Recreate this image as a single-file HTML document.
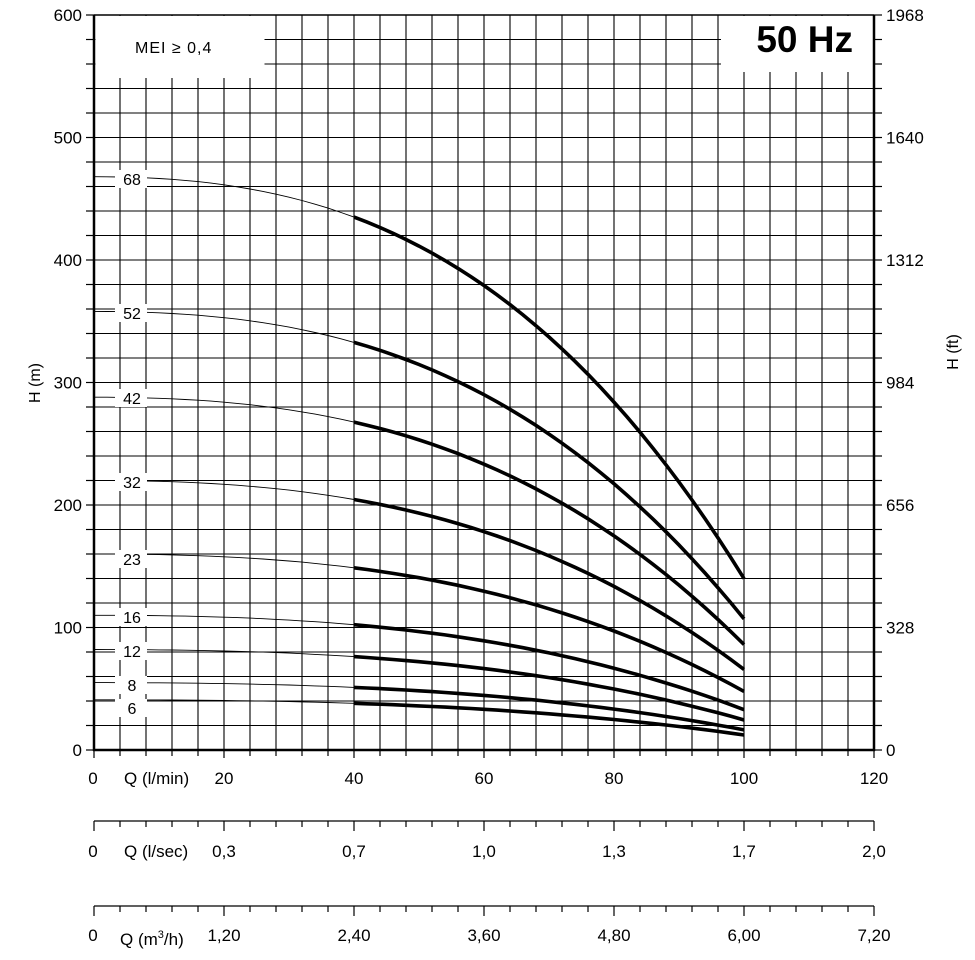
<!DOCTYPE html>
<html><head><meta charset="utf-8"><style>
body{margin:0;background:#fff}
svg{display:block;font-family:"Liberation Sans",sans-serif}
</style></head><body>
<svg id="s" width="975" height="960" viewBox="0 0 975 960" xmlns="http://www.w3.org/2000/svg"></svg>
<script>
const s=document.getElementById('s');
let h='';
const X=q=>94+q*6.5, Y=m=>750-m*1.225;
for(let i=1;i<30;i++){const x=X(i*4);h+=`<line x1="${x}" y1="15" x2="${x}" y2="750" stroke="#000" stroke-width="1.1"/>`;}
for(let j=1;j<30;j++){const y=Y(j*20);h+=`<line x1="94" y1="${y}" x2="874" y2="${y}" stroke="#000" stroke-width="1.1"/>`;}
h+=`<rect x="95.5" y="16" width="169" height="62" fill="#fff"/>`;
h+=`<rect x="721" y="16" width="152" height="56" fill="#fff"/>`;
h+=`<text x="135" y="53" font-size="16" letter-spacing="1">MEI ≥ 0,4</text>`;
h+=`<text x="853" y="52" font-size="37" font-weight="bold" text-anchor="end">50 Hz</text>`;
const C=[[68,468,179],[52,358,313],[42,288,398],[32,220,482],[23,160,559],[16,110,617],[12,82,651],[8,55,685],[6,41,708]];
const f=(H0,q)=>H0*(1-2.67e-5*q*q-4.34e-7*q*q*q);
for(const [n,H0,ly] of C){
  let p1='',p2='';
  for(let q=0;q<=40;q+=2)p1+=(q?'L':'M')+X(q).toFixed(1)+','+Y(f(H0,q)).toFixed(1);
  for(let q=40;q<=100;q+=2)p2+=(q>40?'L':'M')+X(q).toFixed(1)+','+Y(f(H0,q)).toFixed(1);
  h+=`<path d="${p1}" fill="none" stroke="#000" stroke-width="0.9"/>`;
  h+=`<path d="${p2}" fill="none" stroke="#000" stroke-width="3.6"/>`;
  h+=`<rect x="115" y="${ly-9}" width="32" height="18" fill="#fff"/>`;
  h+=`<text x="132" y="${ly+6}" font-size="16" text-anchor="middle">${n}</text>`;
}
h+=`<line x1="94" y1="15" x2="874" y2="15" stroke="#000" stroke-width="1.5"/>`;
h+=`<line x1="94" y1="15" x2="94" y2="751" stroke="#000" stroke-width="2.5"/>`;
h+=`<line x1="874" y1="15" x2="874" y2="751" stroke="#000" stroke-width="2.5"/>`;
h+=`<line x1="93" y1="750" x2="875" y2="750" stroke="#000" stroke-width="2.5"/>`;
for(let j=0;j<=30;j++){const y=Y(j*20);h+=`<line x1="86" y1="${y}" x2="94" y2="${y}" stroke="#000" stroke-width="1.2"/><line x1="874" y1="${y}" x2="882" y2="${y}" stroke="#000" stroke-width="1.2"/>`;}
const ft=['0','328','656','984','1312','1640','1968'];
for(let k=0;k<=6;k++){const y=Y(k*100);h+=`<text x="82" y="${y+6}" font-size="17" text-anchor="end">${k*100}</text><text x="886" y="${y+6}" font-size="17">${ft[k]}</text>`;}
h+=`<text transform="translate(40,383) rotate(-90)" font-size="16" text-anchor="middle">H (m)</text>`;
h+=`<text transform="translate(958,352) rotate(-90)" font-size="16" text-anchor="middle">H (ft)</text>`;
for(let i=0;i<=30;i++){const x=X(i*4);h+=`<line x1="${x}" y1="750" x2="${x}" y2="${i%5==0?758:756}" stroke="#000" stroke-width="1.2"/>`;}
[0,20,40,60,80,100,120].forEach((v,i)=>{if(i)h+=`<text x="${X(v)}" y="784" font-size="17" text-anchor="middle">${v}</text>`;});
h+=`<text x="93" y="784" font-size="17" text-anchor="middle">0</text><text x="124" y="784" font-size="17">Q (l/min)</text>`;
function axis(y,labs,ty,name){
  h+=`<line x1="94" y1="${y}" x2="874" y2="${y}" stroke="#000" stroke-width="1.3"/>`;
  for(let i=0;i<=30;i++){const x=X(i*4);h+=`<line x1="${x}" y1="${y}" x2="${x}" y2="${y+(i%5==0?10:6)}" stroke="#000" stroke-width="1.2"/>`;}
  labs.forEach((l,i)=>{if(i)h+=`<text x="${X(i*20)}" y="${ty}" font-size="17" text-anchor="middle">${l}</text>`;});
  h+=`<text x="93" y="${ty}" font-size="17" text-anchor="middle">0</text>`+name;
}
axis(821,['0','0,3','0,7','1,0','1,3','1,7','2,0'],857,`<text x="124" y="857" font-size="17">Q (l/sec)</text>`);
axis(906,['0','1,20','2,40','3,60','4,80','6,00','7,20'],941,`<text x="120" y="945" font-size="17">Q (m<tspan font-size="11" dy="-7">3</tspan><tspan dy="7">/h)</tspan></text>`);
s.innerHTML=h;
</script>
</body></html>
